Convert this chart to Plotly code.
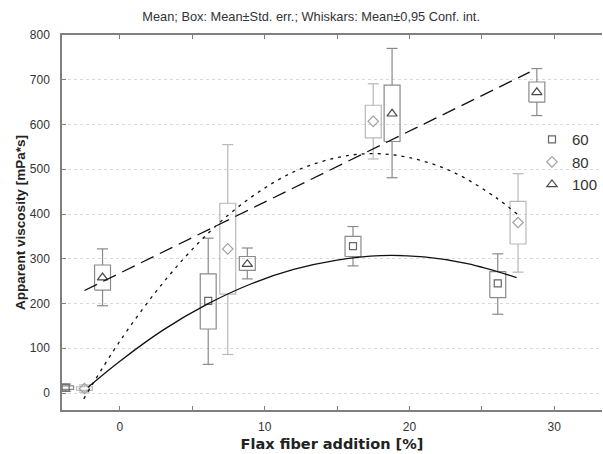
import plotly.graph_objects as go

# ---------------- data ----------------
series_names = ["60", "80", "100"]

pos60 = [-3.75, 6.1, 16.1, 26.1]
mean60 = [12, 206, 328, 245]
se_lo60 = [8, 143, 305, 213]
se_hi60 = [16, 266, 350, 271]
ci_lo60 = [4, 64, 284, 176]
ci_hi60 = [20, 346, 372, 311]

pos80 = [-2.45, 7.45, 17.5, 27.5]
mean80 = [10, 322, 607, 381]
se_lo80 = [6, 221, 570, 333]
se_hi80 = [14, 424, 643, 428]
ci_lo80 = [2, 86, 523, 270]
ci_hi80 = [18, 555, 691, 490]

pos100 = [-1.2, 8.8, 18.8, 28.8]
mean100 = [258, 288, 624, 672]
se_lo100 = [230, 274, 562, 650]
se_hi100 = [286, 305, 688, 695]
ci_lo100 = [195, 255, 481, 620]
ci_hi100 = [322, 324, 770, 725]

# fitted trend curves
fit60_x = [-2.2, 0, 3, 6, 9, 12, 15, 18, 21, 24, 27.4]
fit60_y = [13, 71, 141, 198, 243, 276, 297, 307, 304, 289, 258]
fit80_x = [-2.5, 0, 3, 6, 9, 12, 15, 17.5, 20, 23, 26, 27.5]
fit80_y = [-13, 116, 247, 354, 436, 494, 526, 535, 526, 494, 436, 398]
fit100_x = [-2.45, 28.3]
fit100_y = [229, 717]

x_ticks = [-5, 0, 5, 10, 15, 20, 25, 30]
y_ticks = [0, 100, 200, 300, 400, 500, 600, 700, 800]

# ---------------- styling ----------------
FONT = "Liberation Sans"
BOX_HALF = 0.55
CAP_HALF = 0.38


def box_path(pos, lo, hi, wlo, whi):
    xs, ys = [], []
    for p, l, h, a, b in zip(pos, lo, hi, wlo, whi):
        xs += [p - BOX_HALF, p + BOX_HALF, p + BOX_HALF, p - BOX_HALF, p - BOX_HALF, None]
        ys += [l, l, h, h, l, None]
        xs += [p, p, None, p - CAP_HALF, p + CAP_HALF, None]
        ys += [h, b, None, b, b, None]
        xs += [p, p, None, p - CAP_HALF, p + CAP_HALF, None]
        ys += [l, a, None, a, a, None]
    return xs, ys


fig = go.Figure()

groups = [
    ("60", pos60, mean60, se_lo60, se_hi60, ci_lo60, ci_hi60, "#8a8a8a", "square-open", "#666666", 7),
    ("80", pos80, mean80, se_lo80, se_hi80, ci_lo80, ci_hi80, "#b8b8b8", "diamond-open", "#a0a0a0", 8),
    ("100", pos100, mean100, se_lo100, se_hi100, ci_lo100, ci_hi100, "#8a8a8a", "triangle-up-open", "#4a4a4a", 9),
]

for name, pos, mean, lo, hi, wlo, whi, bcol, sym, mcol, msize in groups:
    bx, by = box_path(pos, lo, hi, wlo, whi)
    fig.add_trace(go.Scatter(x=bx, y=by, mode="lines",
                             line=dict(color=bcol, width=1.2),
                             showlegend=False, hoverinfo="skip"))
    fig.add_trace(go.Scatter(x=pos, y=mean, mode="markers", name=name,
                             marker=dict(symbol=sym, size=msize, color=mcol,
                                         line=dict(width=1.2, color=mcol))))

fig.add_trace(go.Scatter(x=fit60_x, y=fit60_y, mode="lines", line_shape="spline",
                         line=dict(color="#111111", width=1.3), showlegend=False))
fig.add_trace(go.Scatter(x=fit80_x, y=fit80_y, mode="lines", line_shape="spline",
                         line=dict(color="#111111", width=1.3, dash="3px,5px"), showlegend=False))
fig.add_trace(go.Scatter(x=fit100_x, y=fit100_y, mode="lines",
                         line=dict(color="#111111", width=1.3, dash="14px,7px"), showlegend=False))

fig.update_layout(
    width=603, height=454,
    margin=dict(l=62, r=0, t=35, b=44),
    paper_bgcolor="white", plot_bgcolor="white",
    font=dict(family=FONT, color="#333333", size=12),
    title=dict(text="Mean; Box: Mean±Std. err.; Whiskars: Mean±0,95 Conf. int.",
               x=0.516, xanchor="center", xref="container",
               y=1 - 17 / 454, yanchor="middle", yref="container",
               font=dict(family=FONT, size=12.8, color="#333333")),
    legend=dict(x=0.871, y=0.765, xanchor="left", yanchor="top",
                bgcolor="rgba(0,0,0,0)", font=dict(family=FONT, size=15, color="#333333"),
                itemwidth=30),
    showlegend=True,
)

fig.update_xaxes(
    range=[-4, 33.3], tickmode="array", tickvals=x_ticks,
    ticktext=["" if v % 10 else str(v) for v in x_ticks],
    ticks="inside", ticklen=4, tickcolor="#7f7f7f",
    showline=True, linecolor="#7f7f7f", linewidth=1.5, mirror="ticks",
    showgrid=False, zeroline=False, ticklabelstandoff=5,
    tickfont=dict(family=FONT, size=12, color="#333333"),
    title=dict(text="<b>Flax fiber addition [%]</b>", standoff=6,
               font=dict(family="DejaVu Sans", size=14.5, color="#222222")),
)
fig.update_yaxes(
    range=[-38, 800], tickmode="array", tickvals=y_ticks,
    ticks="inside", ticklen=4, tickcolor="#7f7f7f",
    showline=True, linecolor="#7f7f7f", linewidth=1.5,
    showgrid=True, gridcolor="#d9d9d9", griddash="dot", gridwidth=1,
    zeroline=False, ticklabelstandoff=8,
    tickfont=dict(family=FONT, size=12, color="#333333"),
    title=dict(text="<b>Apparent viscosity [mPa*s]</b>", standoff=1,
               font=dict(family=FONT, size=13.5, color="#222222")),
)

fig.write_html("out.html")
